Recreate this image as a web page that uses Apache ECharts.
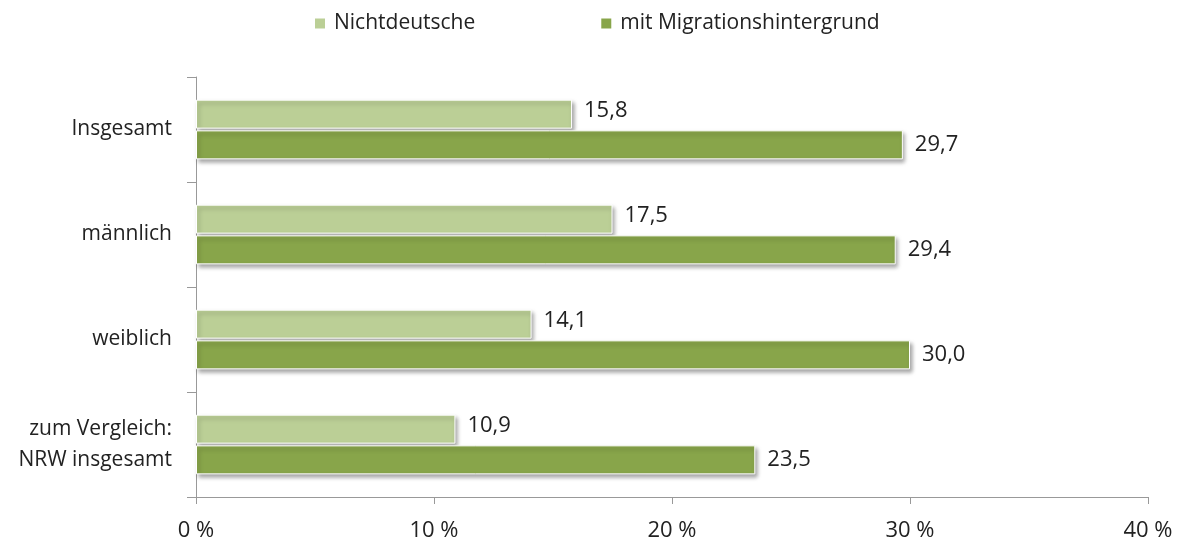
<!DOCTYPE html>
<html>
<head>
<meta charset="utf-8">
<script src="https://cdn.jsdelivr.net/npm/echarts@6/dist/echarts.min.js"></script>
<style>
  html, body { margin: 0; padding: 0; background: #fff; }
  #main { width: 1182px; height: 543px; }
</style>
</head>
<body>
<div id="main"></div>
<script>
var categories = ['Insgesamt', 'männlich', 'weiblich', 'zum Vergleich:\nNRW insgesamt'];
var nichtdeutsche = [15.8, 17.5, 14.1, 10.9];
var migration = [29.7, 29.4, 30.0, 23.5];
var xTicks = [0, 10, 20, 30, 40];

var font = '"Open Sans", "Noto Sans", sans-serif';

function fmt(p) {
    return p.value.toFixed(1).replace('.', ',');
}

var barShadow = {
    borderColor: '#fff',
    borderWidth: 1,
    shadowColor: 'rgba(0,0,0,0.35)',
    shadowBlur: 4,
    shadowOffsetX: 2,
    shadowOffsetY: 3
};

var myChart = echarts.init(document.getElementById('main'));
var option = {
    animation: false,
    textStyle: { fontFamily: font },
    legend: {
        top: 8,
        left: 308,
        itemGap: 124,
        itemWidth: 12,
        itemHeight: 12,
        icon: 'rect',
        textStyle: { fontSize: 21, color: '#222', fontFamily: font, padding: [0, 0, 0, 3] },
        data: ['Nichtdeutsche', 'mit Migrationshintergrund']
    },
    grid: { left: 196, right: 34, top: 77, bottom: 46 },
    xAxis: {
        type: 'value',
        min: xTicks[0],
        max: xTicks[xTicks.length - 1],
        interval: 10,
        axisLine: { show: true, lineStyle: { color: '#999' } },
        axisTick: { show: true, length: 7, lineStyle: { color: '#999' } },
        splitLine: { show: false },
        axisLabel: {
            fontSize: 22, color: '#222', margin: 23,
            formatter: function (v) { return v + ' %'; }
        }
    },
    yAxis: {
        type: 'category',
        inverse: true,
        data: categories,
        axisLine: { show: true, lineStyle: { color: '#999' } },
        axisTick: { show: true, length: 9, lineStyle: { color: '#999' } },
        axisLabel: { fontSize: 21, color: '#222', margin: 24, lineHeight: 31, align: 'right' }
    },
    series: [
        {
            name: 'Nichtdeutsche',
            type: 'bar',
            data: nichtdeutsche,
            barWidth: 29,
            barGap: '6%',
            itemStyle: Object.assign({ color: '#BBCF96' }, barShadow),
            label: { show: true, position: 'right', distance: 12, offset: [0, -3], fontSize: 22, color: '#222', formatter: fmt }
        },
        {
            name: 'mit Migrationshintergrund',
            type: 'bar',
            data: migration,
            barWidth: 29,
            barGap: '6%',
            itemStyle: Object.assign({ color: '#88A54A' }, barShadow),
            label: { show: true, position: 'right', distance: 12, offset: [0, 0], fontSize: 22, color: '#222', formatter: fmt }
        }
    ]
};
myChart.setOption(option);
</script>
</body>
</html>
